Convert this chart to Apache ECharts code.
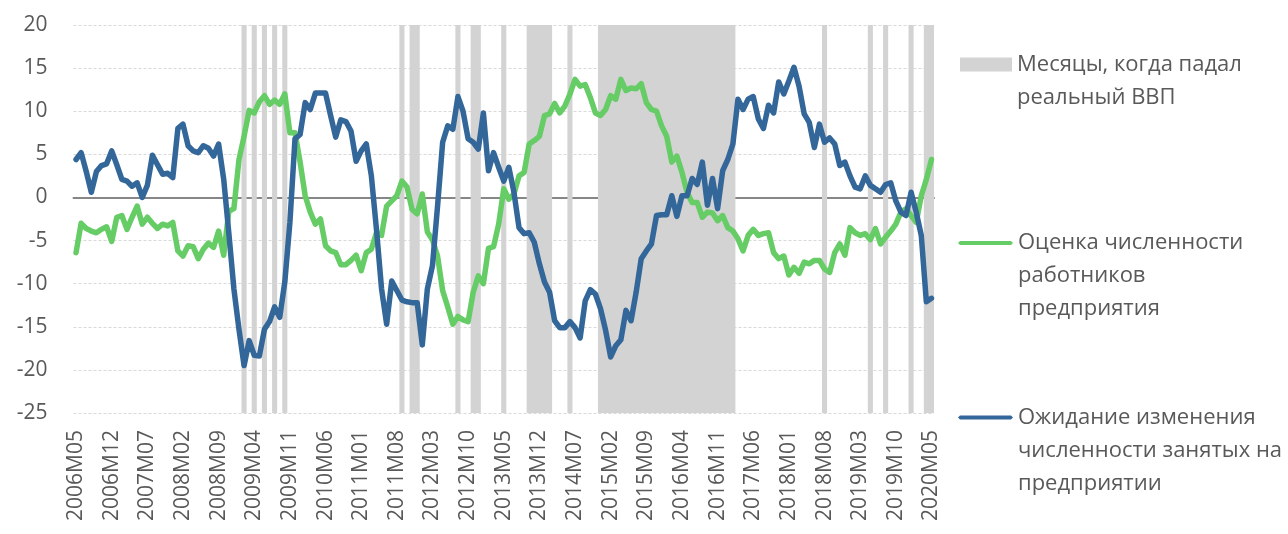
<!DOCTYPE html>
<html>
<head>
<meta charset="utf-8">
<script src="https://cdn.jsdelivr.net/npm/echarts@6/dist/echarts.min.js"></script>
<style>
    html, body { margin: 0; padding: 0; background: #fff; }
    #chart { width: 1288px; height: 534px; }
</style>
</head>
<body>
<div id="chart"></div>
<script>
    // monthly labels 2006M05 .. 2020M05
    var months = buildMonths(2006, 5, 2020, 5);

    // Ожидание изменения численности занятых на предприятии (one row per year)
    var expectation = [
        4.4, 5.2, 3.0, 0.6, 3.0, 3.7, 3.9, 5.4,
        3.8, 2.1, 1.9, 1.3, 1.7, 0.0, 1.4, 4.9, 3.8, 2.7, 2.8, 2.3,
        8.0, 8.5, 6.0, 5.4, 5.2, 6.0, 5.7, 4.8, 6.2, 2.1, -4.1, -10.6,
        -15.3, -19.5, -16.6, -18.3, -18.4, -15.3, -14.4, -12.7, -13.9, -9.8, -2.9, 6.8,
        7.3, 11.0, 10.2, 12.1, 12.1, 12.1, 9.5, 7.0, 9.0, 8.8, 7.7, 4.2,
        5.4, 6.2, 2.5, -3.7, -10.6, -14.7, -9.7, -10.8, -11.9, -12.1, -12.2, -12.2,
        -17.1, -10.6, -7.9, -1.0, 6.4, 8.3, 7.9, 11.7, 10.0, 6.8, 6.4, 5.6,
        9.8, 3.1, 5.2, 3.5, 1.9, 3.5, 0.6, -3.5, -4.2, -4.1, -5.2, -7.7,
        -9.8, -11.0, -14.3, -15.1, -15.1, -14.4, -15.1, -16.3, -12.0, -10.7, -11.2, -12.9,
        -15.4, -18.5, -17.2, -16.5, -13.1, -14.3, -11.0, -7.1, -6.2, -5.4, -2.1, -2.0,
        -2.0, 0.2, -2.2, 0.2, 0.2, 2.2, 1.5, 4.1, -0.9, 2.2, -1.3, 3.1,
        4.4, 6.2, 11.4, 10.2, 11.4, 11.7, 9.1, 8.0, 10.7, 9.8, 13.4, 12.0,
        13.5, 15.1, 12.9, 9.7, 8.7, 5.8, 8.5, 6.4, 6.9, 6.2, 3.7, 4.1,
        2.5, 1.2, 1.0, 2.5, 1.4, 1.0, 0.6, 1.5, 1.7, -0.4, -1.7, -2.1,
        0.6, -1.7, -4.4, -12.1, -11.7
    ];

    // Оценка численности работников предприятия
    var estimate = [
        -6.4, -3.0, -3.6, -3.9, -4.1, -3.7, -3.4, -5.1,
        -2.3, -2.1, -3.7, -2.3, -1.0, -3.1, -2.3, -3.0, -3.6, -3.1, -3.3, -2.9,
        -6.2, -6.8, -5.6, -5.7, -7.1, -6.0, -5.3, -5.8, -3.9, -6.7, -1.6, -1.3,
        4.4, 7.1, 10.1, 9.8, 11.1, 11.8, 10.8, 11.3, 10.8, 12.0, 7.5, 7.5,
        4.1, 0.2, -1.7, -3.1, -2.5, -5.6, -6.2, -6.4, -7.8, -7.8, -7.3, -6.7,
        -8.5, -6.4, -6.0, -4.1, -4.4, -1.0, -0.4, 0.2, 1.9, 1.2, -1.4, -1.9,
        0.4, -4.0, -4.9, -6.8, -10.8, -12.7, -14.7, -13.8, -14.2, -14.4, -11.0, -9.1,
        -10.0, -5.9, -5.7, -3.1, 1.0, -0.2, 0.4, 2.5, 2.9, 6.2, 6.6, 7.1,
        9.5, 9.7, 10.9, 9.8, 10.6, 12.0, 13.7, 12.9, 13.1, 11.6, 9.8, 9.5,
        10.2, 11.8, 11.4, 13.7, 12.4, 12.7, 12.6, 13.2, 11.0, 10.2, 10.0, 8.3,
        7.1, 4.1, 4.8, 2.9, 0.6, -0.6, -0.6, -2.3, -1.7, -1.8, -2.7, -2.1,
        -3.5, -3.9, -4.8, -6.2, -4.4, -3.7, -4.4, -4.2, -4.1, -6.4, -7.1, -6.8,
        -9.0, -8.1, -8.8, -7.5, -7.7, -7.3, -7.3, -8.3, -8.7, -6.4, -5.4, -6.7,
        -3.5, -4.1, -4.4, -4.2, -4.9, -3.6, -5.4, -4.6, -3.9, -3.1, -1.7, -1.3,
        -2.1, -2.9, 0.2, 2.1, 4.4
    ];

    // months when real GDP fell
    var gdpFallMonths = [
        '2009M02', '2009M04', '2009M06', '2009M08', '2009M10',
        '2011M09', '2011M11', '2011M12', '2012M08', '2012M11', '2012M12',
        '2013M05', '2013M10', '2013M11', '2013M12', '2014M01', '2014M02', '2014M06',
        '2014M12', '2015M01', '2015M02', '2015M03', '2015M04', '2015M05', '2015M06',
        '2015M07', '2015M08', '2015M09', '2015M10', '2015M11', '2015M12',
        '2016M01', '2016M02', '2016M03', '2016M04', '2016M05', '2016M06',
        '2016M07', '2016M08', '2016M09', '2016M10', '2016M11', '2016M12',
        '2017M01', '2017M02',
        '2018M08', '2019M05', '2019M08', '2020M01', '2020M04', '2020M05'
    ];

    var yTicks = [-25, -20, -15, -10, -5, 0, 5, 10, 15, 20];

    var NAME_GDP = 'Месяцы, когда падал реальный ВВП';
    var NAME_EST = 'Оценка численности работников предприятия';
    var NAME_EXP = 'Ожидание изменения численности занятых на предприятии';
    var legendText = {};
    legendText[NAME_GDP] = 'Месяцы, когда падал\nреальный ВВП';
    legendText[NAME_EST] = 'Оценка численности\nработников\nпредприятия';
    legendText[NAME_EXP] = 'Ожидание изменения\nчисленности занятых на\nпредприятии';

    var FONT = '"Open Sans", "Noto Sans", sans-serif';
    var TEXT_COLOR = '#595959';
    var LINE_HEIGHT = 33;

    // legend icons: the visible mark sits at the top of a taller box (the
    // stray moveTo points stretch the box), so the text block, which echarts
    // centres on the box, starts level with the icon
    var ICON_BOX = 'path://M0,0H52V14H0ZM52,47';
    var ICON_LINE = 'path://M0,0M0,7L2,5H53L55,7L53,9H2ZM55,80';

    function buildMonths(y0, m0, y1, m1) {
        var out = [];
        var y = y0, m = m0;
        while (y < y1 || (y === y1 && m <= m1)) {
            out.push(y + 'M' + (m < 10 ? '0' + m : m));
            m++;
            if (m > 12) {
                m = 1;
                y++;
            }
        }
        return out;
    }

    function buildLegend(name, left, top, icon, width, height) {
        return {
            data: [{name: name, icon: icon}],
            orient: 'vertical',
            left: left,
            top: top,
            padding: 0,
            itemWidth: width,
            itemHeight: height,
            selectedMode: false,
            itemStyle: {borderWidth: 0},
            formatter: function (n) {
                return legendText[n];
            },
            textStyle: {
                fontFamily: FONT,
                fontSize: 22,
                color: TEXT_COLOR,
                lineHeight: LINE_HEIGHT
            }
        };
    }

    var gdpBars = months.map(function (m) {
        return gdpFallMonths.indexOf(m) >= 0 ? 1 : '-';
    });

    var option = {
        animation: false,
        backgroundColor: '#fff',
        grid: {
            left: 73.5,
            right: 354,
            top: 25,
            bottom: 121
        },
        legend: [
            buildLegend(NAME_GDP, 960, 48, ICON_BOX, 52, 47),
            buildLegend(NAME_EST, 958, 226.5, ICON_LINE, 55, 80),
            buildLegend(NAME_EXP, 958, 401, ICON_LINE, 55, 80)
        ],
        xAxis: [{
            type: 'category',
            data: months,
            boundaryGap: true,
            axisLine: {show: false, onZero: false},
            axisTick: {show: false},
            axisLabel: {
                interval: 6,
                rotate: 90,
                margin: 17,
                fontFamily: FONT,
                fontSize: 21,
                color: TEXT_COLOR
            },
            splitLine: {show: false}
        }, {
            // second axis only draws the zero line
            type: 'category',
            data: months,
            position: 'bottom',
            axisLine: {
                show: true,
                onZero: true,
                onZeroAxisIndex: 0,
                lineStyle: {color: '#868686', width: 2}
            },
            axisTick: {show: false},
            axisLabel: {show: false},
            splitLine: {show: false}
        }],
        yAxis: [{
            type: 'value',
            min: yTicks[0],
            max: yTicks[yTicks.length - 1],
            interval: 5,
            axisLine: {show: false},
            axisTick: {show: false},
            axisLabel: {
                margin: 26,
                fontFamily: FONT,
                fontSize: 21,
                color: TEXT_COLOR
            },
            splitLine: {
                lineStyle: {color: '#d9d9d9', width: 1, type: [3, 2]}
            }
        }, {
            type: 'value',
            min: 0,
            max: 1,
            show: false,
            splitLine: {show: false}
        }],
        series: [{
            name: NAME_GDP,
            type: 'bar',
            yAxisIndex: 1,
            data: gdpBars,
            barWidth: '100%',
            barGap: '0%',
            // large mode fills all bars as one path, so neighbouring months have no seams
            large: true,
            largeThreshold: 50,
            itemStyle: {color: '#d3d3d3'},
            z: 1
        }, {
            name: NAME_EST,
            type: 'line',
            data: estimate,
            symbol: 'none',
            lineStyle: {color: '#66cc66', width: 5.5, cap: 'round', join: 'round'},
            itemStyle: {color: '#66cc66'},
            z: 3
        }, {
            name: NAME_EXP,
            type: 'line',
            data: expectation,
            symbol: 'none',
            lineStyle: {color: '#336699', width: 5.5, cap: 'round', join: 'round'},
            itemStyle: {color: '#336699'},
            z: 4
        }]
    };

    var chart = echarts.init(document.getElementById('chart'));
    chart.setOption(option);
</script>
</body>
</html>
